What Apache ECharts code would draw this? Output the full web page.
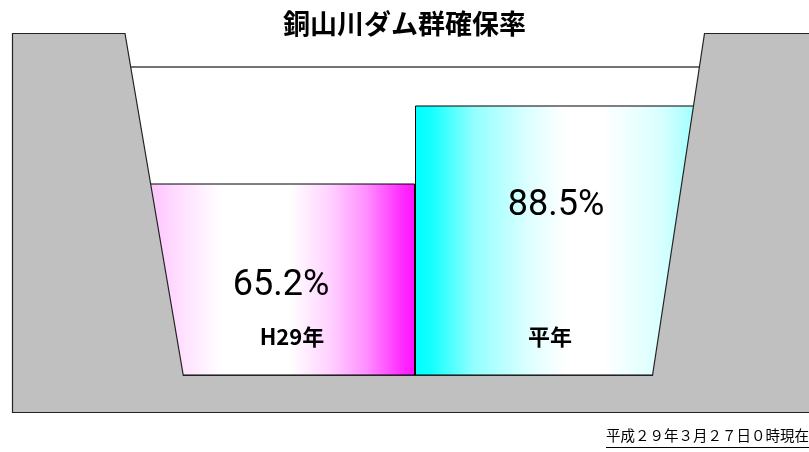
<!DOCTYPE html>
<html>
<head>
<meta charset="utf-8">
<script src="https://cdn.jsdelivr.net/npm/echarts@6/dist/echarts.min.js"></script>
<style>
  html, body { margin: 0; padding: 0; background: #fff; }
  #main { width: 809px; height: 452px; }
</style>
</head>
<body>
<div id="main"></div>
<script>
// data
let categories = ['H29年', '平年'];
let rates = [65.2, 88.5];
let fullLevel = 100;
let titleText = '銅山川ダム群確保率';
let noteText = '平成２９年３月２７日０時現在';

let chart = echarts.init(document.getElementById('main'));

// dam outline (decoration)
let dam = [
    [12.5, 33.5], [125, 33.5], [183.3, 375.5], [652.5, 375.5],
    [704.5, 33.5], [815, 33.5], [815, 412.5], [12.5, 412.5]
];

let pinkFill = new echarts.graphic.LinearGradient(0, 0, 1, 0, [
    {offset: 0, color: '#ffb0ff'},
    {offset: 0.09, color: '#ffc4ff'},
    {offset: 0.18, color: '#ffdcff'},
    {offset: 0.33, color: '#ffffff'},
    {offset: 0.57, color: '#ffffff'},
    {offset: 0.71, color: '#ffd0ff'},
    {offset: 0.83, color: '#ff90ff'},
    {offset: 0.95, color: '#ff30ff'},
    {offset: 1, color: '#ff10ff'}
]);
let cyanFill = new echarts.graphic.LinearGradient(0, 0, 1, 0, [
    {offset: 0, color: '#00ffff'},
    {offset: 0.05, color: '#10ffff'},
    {offset: 0.2, color: '#90ffff'},
    {offset: 0.4, color: '#e0ffff'},
    {offset: 0.52, color: '#ffffff'},
    {offset: 0.65, color: '#ffffff'},
    {offset: 0.85, color: '#d8ffff'},
    {offset: 1, color: '#90ffff'}
]);

let option = {
    animation: false,
    title: {
        text: titleText,
        left: 'center',
        top: 5,
        textStyle: {
            fontFamily: 'Noto Sans CJK JP',
            fontWeight: 'bold',
            fontSize: 27,
            color: '#000'
        }
    },
    grid: {left: 125, right: 104, top: 67, bottom: 77},
    xAxis: {
        type: 'category',
        data: [
            {value: categories[0], textStyle: {padding: [0, 0, 0, 44]}},
            {value: categories[1], textStyle: {padding: [0, 20, 0, 0]}}
        ],
        axisLine: {show: false},
        axisTick: {show: false},
        axisLabel: {
            inside: true,
            margin: 27,
            fontFamily: 'Noto Sans CJK JP',
            fontWeight: 'bold',
            fontSize: 22,
            color: '#000'
        },
        z: 20
    },
    yAxis: {
        type: 'value',
        min: 8,
        max: fullLevel,
        show: false,
        splitLine: {show: false}
    },
    series: [{
        type: 'bar',
        barWidth: '100%',
        data: [
            {value: rates[0], itemStyle: {color: pinkFill}, label: {offset: [11, 2]}},
            {value: rates[1], itemStyle: {color: cyanFill}, label: {offset: [-4, 0]}}
        ],
        itemStyle: {borderColor: '#000', borderWidth: 1},
        label: {
            show: true,
            position: 'insideTop',
            distance: 82,
            formatter: '{c}%',
            fontFamily: 'Roboto',
            fontSize: 36,
            color: '#000'
        },
        markLine: {
            silent: true,
            symbol: 'none',
            label: {show: false},
            lineStyle: {color: '#444', type: 'solid', width: 1.5},
            data: [{yAxis: fullLevel}]
        }
    }],
    graphic: [
        {
            type: 'polygon',
            z: 50,
            shape: {points: dam},
            style: {fill: '#c0c0c0', stroke: '#222', lineWidth: 1.2}
        },
        {
            type: 'text',
            z: 50,
            left: 606,
            top: 428,
            style: {
                text: noteText,
                fontFamily: 'Noto Sans CJK JP',
                fontSize: 14.5,
                fill: '#000'
            }
        },
        {
            type: 'line',
            z: 50,
            shape: {x1: 606, y1: 447.5, x2: 809, y2: 447.5},
            style: {stroke: '#000', lineWidth: 1}
        }
    ]
};

chart.setOption(option);
</script>
</body>
</html>
